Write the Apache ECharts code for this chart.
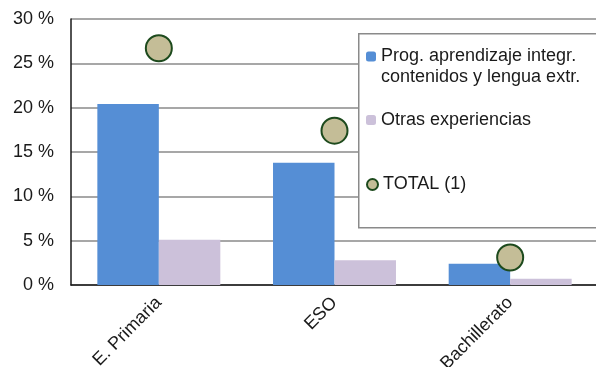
<!DOCTYPE html>
<html><head><meta charset="utf-8">
<script src="https://cdn.jsdelivr.net/npm/echarts@6/dist/echarts.min.js"></script>
<style>html,body{margin:0;padding:0;background:#fff}#c{width:596px;height:367px}</style>
</head><body><div id="c"></div>
<script>
const categories = ['E. Primaria', 'ESO', 'Bachillerato'];
const clilValues = [20.4, 13.8, 2.4];
const otherValues = [5.1, 2.8, 0.7];
const totalValues = [26.7, 17.4, 3.1];
const seriesNames = ['Prog. aprendizaje integr.\ncontenidos y lengua extr.', 'Otras experiencias', 'TOTAL (1)'];

const font = 'Liberation Sans, Arial, sans-serif';
const chart = echarts.init(document.getElementById('c'), null, {renderer: 'canvas'});
const legendText = {fontFamily: font, fontSize: 18, color: '#1a1a1a', lineHeight: 21};
chart.setOption({
  animation: false,
  grid: {left: 71, right: -2, top: 19, bottom: 82, containLabel: false, outerBoundsMode: 'none'},
  graphic: [{
    type: 'rect', z: 3, left: 358, top: 33,
    shape: {width: 250, height: 194},
    style: {fill: '#fff', stroke: '#8a8a8a', lineWidth: 1.5}
  }],
  legend: [
    {data: [seriesNames[0]], orient: 'vertical', left: 366, top: 25, padding: 0, itemWidth: 10, itemHeight: 10, z: 5,
     formatter: function (n) { return '\n' + n; }, textStyle: legendText},
    {data: [seriesNames[1]], orient: 'vertical', left: 366, top: 109.5, padding: 0, itemWidth: 10, itemHeight: 10, z: 5,
     textStyle: legendText},
    {data: [seriesNames[2]], orient: 'vertical', left: 366, top: 174, padding: 0, itemWidth: 11, itemHeight: 11, z: 5,
     textStyle: legendText}
  ],
  xAxis: {
    type: 'category', data: categories,
    axisLine: {lineStyle: {color: '#1a1a1a', width: 1.5}},
    axisTick: {show: false},
    axisLabel: {rotate: 45, margin: 15, fontFamily: font, fontSize: 18, color: '#1a1a1a', interval: 0}
  },
  yAxis: {
    type: 'value', min: 0, max: 30, interval: 5,
    axisLine: {show: true, lineStyle: {color: '#1a1a1a', width: 1.5}},
    axisTick: {show: false},
    splitLine: {lineStyle: {color: '#8a8a8a', width: 1.5}},
    axisLabel: {formatter: '{value} %', margin: 17, fontFamily: font, fontSize: 18, color: '#1a1a1a'}
  },
  series: [
    {name: seriesNames[0], type: 'bar', data: clilValues, barGap: '0%', barCategoryGap: '30%',
     itemStyle: {color: '#558ed5'}},
    {name: seriesNames[1], type: 'bar', data: otherValues,
     itemStyle: {color: '#ccc1da'}},
    {name: seriesNames[2], type: 'scatter', data: totalValues, symbol: 'circle', symbolSize: 26, z: 6,
     itemStyle: {color: '#c4bd97', borderColor: '#1d4a1d', borderWidth: 2, opacity: 1}}
  ]
});
</script></body></html>
